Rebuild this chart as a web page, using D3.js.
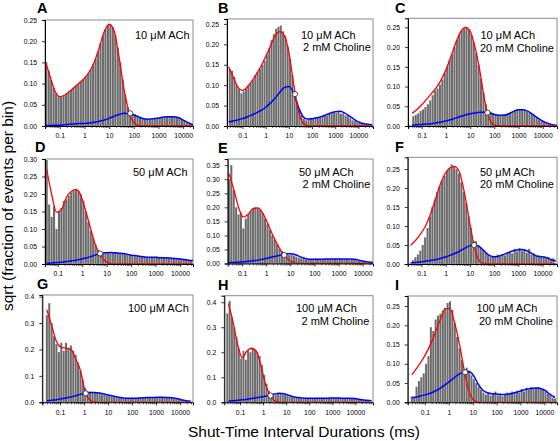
<!DOCTYPE html>
<html><head><meta charset="utf-8">
<script src="https://cdn.jsdelivr.net/npm/d3@7"></script>
<style>
body{margin:0;background:#fff}
svg{display:block}
text{font-family:"Liberation Sans",Arial,sans-serif;fill:#000}
</style>
</head><body>
<svg id="chart" width="560" height="441"></svg>
<script>
// ---------------- DATA ----------------
const panelLetters = ["A","B","C","D","E","F","G","H","I"];
const achLabels = ["10 \u03bcM ACh","10 \u03bcM ACh","10 \u03bcM ACh","50 \u03bcM ACh","50 \u03bcM ACh","50 \u03bcM ACh","100 \u03bcM ACh","100 \u03bcM ACh","100 \u03bcM ACh"];
const cholineLabels = ["","2 mM Choline","20 mM Choline","","2 mM Choline","20 mM Choline","","2 mM Choline","20 mM Choline"];
const xTickValues = [0.1, 1, 10, 100, 1000, 10000];
const yTicks25 = [0, 0.05, 0.10, 0.15, 0.20, 0.25];
const yTicks30 = [0, 0.05, 0.10, 0.15, 0.20, 0.25, 0.30];
const yTicks35 = [0, 0.05, 0.10, 0.15, 0.20, 0.25, 0.30, 0.35];
const yTicks40 = [0, 0.1, 0.2, 0.3, 0.4];

// histogram bins: log10(ms) of first bin centre, 10 bins per decade
const binStart = [-1.55, -1.55, -1.35, -1.45, -1.55, -1.35, -1.55, -1.55, -1.55];
const barsA = [0.150,0.130,0.108,0.090,0.077,0.070,0.068,0.071,0.076,0.080,0.085,0.090,0.095,0.100,0.105,0.110,0.117,0.124,0.133,0.145,0.158,0.175,0.195,0.213,0.228,0.238,0.240,0.233,0.215,0.185,0.150,0.110,0.075,0.045,0.032,0.030,0.028,0.025,0.022,0.019,0.017,0.016,0.016,0.016,0.017,0.018,0.019,0.020,0.021,0.022,0.022,0.022,0.022,0.021,0.019,0.016,0.012,0.008,0.005,0.003];
const barsB = [0.140,0.135,0.120,0.100,0.090,0.080,0.085,0.092,0.100,0.105,0.112,0.125,0.132,0.140,0.150,0.160,0.175,0.190,0.210,0.225,0.238,0.243,0.246,0.232,0.220,0.195,0.165,0.125,0.080,0.060,0.040,0.026,0.018,0.014,0.016,0.020,0.018,0.021,0.020,0.024,0.022,0.027,0.025,0.030,0.031,0.034,0.032,0.035,0.030,0.031,0.026,0.024,0.019,0.014,0.012,0.009,0.008,0.006,0.004,0.003];
const barsC = [0.025,0.028,0.032,0.038,0.042,0.048,0.055,0.065,0.078,0.090,0.095,0.105,0.118,0.135,0.150,0.168,0.182,0.200,0.218,0.232,0.242,0.248,0.250,0.245,0.232,0.212,0.185,0.155,0.120,0.085,0.055,0.038,0.036,0.033,0.030,0.028,0.027,0.029,0.030,0.032,0.035,0.037,0.040,0.042,0.043,0.041,0.040,0.036,0.033,0.030,0.025,0.020,0.016,0.012,0.009,0.006,0.004,0.003];
const barsD = [0.297,0.170,0.135,0.165,0.100,0.150,0.160,0.180,0.185,0.195,0.205,0.210,0.212,0.210,0.198,0.180,0.150,0.120,0.095,0.075,0.055,0.040,0.030,0.030,0.032,0.033,0.031,0.034,0.032,0.033,0.030,0.029,0.028,0.027,0.026,0.025,0.024,0.022,0.022,0.020,0.021,0.019,0.020,0.018,0.019,0.022,0.019,0.020,0.018,0.019,0.017,0.018,0.016,0.017,0.015,0.014,0.015,0.013,0.012,0.011];
const barsE = [0.300,0.350,0.260,0.200,0.175,0.180,0.125,0.160,0.175,0.185,0.195,0.200,0.198,0.192,0.180,0.160,0.140,0.120,0.100,0.085,0.068,0.052,0.045,0.040,0.035,0.030,0.032,0.028,0.024,0.020,0.018,0.016,0.014,0.015,0.013,0.014,0.018,0.015,0.016,0.015,0.017,0.016,0.015,0.017,0.016,0.015,0.018,0.016,0.015,0.016,0.014,0.015,0.013,0.012,0.010,0.008,0.006,0.004,0.003];
const barsF = [0.010,0.018,0.025,0.035,0.050,0.070,0.095,0.125,0.150,0.170,0.190,0.205,0.220,0.232,0.245,0.252,0.262,0.258,0.250,0.238,0.215,0.190,0.160,0.125,0.095,0.062,0.060,0.050,0.045,0.038,0.030,0.025,0.020,0.022,0.018,0.025,0.020,0.026,0.023,0.030,0.032,0.028,0.040,0.033,0.042,0.035,0.038,0.030,0.040,0.025,0.028,0.020,0.022,0.018,0.020,0.015,0.018,0.010,0.015];
const barsG = [0.330,0.375,0.300,0.250,0.220,0.190,0.225,0.195,0.225,0.205,0.215,0.195,0.180,0.150,0.120,0.085,0.055,0.042,0.040,0.038,0.036,0.035,0.033,0.030,0.028,0.026,0.025,0.022,0.021,0.019,0.018,0.016,0.015,0.016,0.014,0.015,0.017,0.015,0.016,0.018,0.017,0.016,0.019,0.018,0.017,0.019,0.018,0.020,0.019,0.021,0.018,0.017,0.016,0.014,0.012,0.010,0.008,0.006,0.004];
const barsH = [0.355,0.405,0.340,0.300,0.260,0.215,0.175,0.205,0.170,0.205,0.200,0.215,0.210,0.200,0.185,0.150,0.110,0.075,0.045,0.030,0.028,0.030,0.033,0.035,0.032,0.029,0.026,0.023,0.021,0.019,0.018,0.017,0.016,0.015,0.017,0.016,0.014,0.016,0.017,0.015,0.016,0.018,0.015,0.017,0.016,0.018,0.017,0.016,0.018,0.015,0.017,0.016,0.015,0.016,0.014,0.019,0.013,0.012,0.011,0.009,0.008,0.006];
const barsI = [0.015,0.012,0.040,0.055,0.065,0.075,0.100,0.120,0.195,0.185,0.215,0.225,0.230,0.238,0.245,0.258,0.262,0.240,0.205,0.170,0.140,0.110,0.085,0.090,0.082,0.070,0.060,0.050,0.040,0.032,0.025,0.020,0.025,0.018,0.022,0.028,0.018,0.020,0.016,0.022,0.025,0.020,0.028,0.022,0.030,0.025,0.035,0.028,0.038,0.032,0.040,0.035,0.038,0.040,0.036,0.032,0.028,0.022,0.018,0.012,0.010];

// fitted curves: log10(ms) of first sample, one sample every 0.2 decade
const curveStart = [-1.6, -1.6, -1.4, -1.45, -1.55, -1.45, -1.55, -1.5, -1.55];
const redA = [0.155,0.118,0.083,0.069,0.073,0.082,0.092,0.102,0.113,0.128,0.151,0.185,0.222,0.240,0.225,0.163,0.088,0.034,0.008,0.001,0,0,0,0,0,0,0,0,0,0,0];
const blueA = [0.001,0.001,0.002,0.002,0.003,0.004,0.005,0.006,0.006,0.007,0.009,0.011,0.014,0.018,0.023,0.027,0.030,0.029,0.026,0.021,0.017,0.016,0.017,0.019,0.021,0.022,0.022,0.020,0.014,0.008,0.003];
const redB = [0.145,0.120,0.095,0.087,0.095,0.110,0.127,0.147,0.170,0.195,0.220,0.231,0.222,0.180,0.105,0.040,0.008,0.001,0,0,0,0,0,0,0,0,0,0,0,0,0,0];
const blueB = [0.010,0.012,0.015,0.018,0.022,0.027,0.032,0.038,0.046,0.056,0.068,0.082,0.094,0.097,0.082,0.048,0.024,0.017,0.018,0.020,0.023,0.027,0.032,0.035,0.036,0.032,0.025,0.017,0.010,0.006,0.004,0.003];
const redC = [0.032,0.042,0.054,0.068,0.082,0.097,0.117,0.143,0.175,0.210,0.238,0.250,0.240,0.200,0.140,0.065,0.018,0.002,0,0,0,0,0,0,0,0,0,0,0,0,0];
const blueC = [0.002,0.003,0.004,0.005,0.006,0.008,0.010,0.013,0.016,0.020,0.024,0.028,0.031,0.033,0.035,0.035,0.033,0.029,0.027,0.027,0.031,0.037,0.041,0.041,0.037,0.029,0.020,0.012,0.007,0.003,0.001];
const redD = [0.270,0.200,0.148,0.155,0.190,0.207,0.213,0.195,0.150,0.100,0.052,0.025,0.008,0.001,0,0,0,0,0,0,0,0,0,0,0,0,0,0,0,0,0];
const blueD = [0.002,0.003,0.004,0.005,0.007,0.009,0.011,0.014,0.017,0.021,0.026,0.030,0.032,0.033,0.032,0.031,0.029,0.026,0.024,0.022,0.020,0.019,0.019,0.018,0.018,0.017,0.016,0.015,0.013,0.011,0.010];
const redE = [0.320,0.265,0.200,0.165,0.175,0.195,0.198,0.180,0.145,0.105,0.070,0.040,0.020,0.006,0.001,0,0,0,0,0,0,0,0,0,0,0,0,0,0,0,0];
const blueE = [0.003,0.004,0.005,0.006,0.008,0.010,0.012,0.015,0.019,0.023,0.027,0.031,0.035,0.035,0.030,0.022,0.017,0.015,0.015,0.015,0.016,0.016,0.016,0.016,0.016,0.016,0.015,0.012,0.008,0.005,0.003];
const redF = [0.049,0.062,0.078,0.098,0.128,0.165,0.205,0.235,0.252,0.257,0.245,0.195,0.125,0.055,0.012,0.001,0,0,0,0,0,0,0,0,0,0,0,0,0,0,0];
const blueF = [0.003,0.004,0.005,0.007,0.009,0.011,0.014,0.018,0.022,0.027,0.033,0.040,0.047,0.050,0.047,0.037,0.025,0.019,0.020,0.024,0.029,0.034,0.037,0.038,0.035,0.028,0.021,0.019,0.017,0.012,0.008];
const redG = [0.350,0.290,0.230,0.208,0.205,0.200,0.165,0.120,0.040,0.008,0.001,0,0,0,0,0,0,0,0,0,0,0,0,0,0,0,0,0,0,0,0];
const blueG = [0.006,0.008,0.010,0.013,0.016,0.020,0.025,0.030,0.034,0.037,0.037,0.035,0.031,0.027,0.023,0.019,0.016,0.015,0.015,0.016,0.017,0.018,0.018,0.019,0.019,0.018,0.017,0.014,0.010,0.006,0.004];
const redH = [0.395,0.320,0.230,0.178,0.205,0.216,0.205,0.150,0.072,0.030,0.006,0.001,0,0,0,0,0,0,0,0,0,0,0,0,0,0,0,0,0,0,0,0];
const blueH = [0.005,0.006,0.008,0.010,0.012,0.015,0.018,0.021,0.024,0.028,0.033,0.036,0.034,0.028,0.022,0.019,0.017,0.016,0.016,0.016,0.016,0.016,0.017,0.017,0.017,0.016,0.016,0.015,0.013,0.010,0.008,0.006];
const redI = [0.071,0.088,0.106,0.127,0.153,0.183,0.215,0.243,0.243,0.205,0.150,0.082,0.028,0.005,0,0,0,0,0,0,0,0,0,0,0,0,0,0,0,0,0];
const blueI = [0.012,0.014,0.017,0.020,0.024,0.030,0.037,0.045,0.055,0.065,0.074,0.079,0.080,0.068,0.045,0.030,0.024,0.022,0.021,0.020,0.021,0.023,0.026,0.030,0.034,0.036,0.037,0.036,0.030,0.020,0.013];

// crossing points (ms, value)
const markerT = [72, 18.4, 52, 5.4, 5.6, 15, 1.17, 2.1, 4.8];
const markerV = [0.030, 0.078, 0.034, 0.030, 0.030, 0.050, 0.034, 0.027, 0.078];

const barsList = [barsA,barsB,barsC,barsD,barsE,barsF,barsG,barsH,barsI];
const redList = [redA,redB,redC,redD,redE,redF,redG,redH,redI];
const blueList = [blueA,blueB,blueC,blueD,blueE,blueF,blueG,blueH,blueI];
const yTickList = [yTicks25,yTicks25,yTicks25,yTicks30,yTicks35,yTicks25,yTicks40,yTicks40,yTicks25];
const yTop = [0.25, 0.262, 0.273, 0.30, 0.372, 0.281, 0.406, 0.426, 0.276];

// ---------------- LAYOUT ----------------
const boxes = [
  {l:45,   r:193, t:20,    b:126,   lo:-1.6,  hi:4.4,  fmt:".2f"},
  {l:227,  r:373, t:19,    b:126,   lo:-1.67, hi:4.63, fmt:".2f"},
  {l:408,  r:557, t:18.3,  b:126,   lo:-1.57, hi:4.59, fmt:".2f"},
  {l:45,   r:193, t:159,   b:264,   lo:-1.52, hi:4.53, fmt:".2f"},
  {l:227.7,r:373, t:159,   b:263.5, lo:-1.6,  hi:4.43, fmt:".2f"},
  {l:407.7,r:557, t:157.3, b:264,   lo:-1.57, hi:4.6,  fmt:".2f"},
  {l:42.3, r:193, t:295,   b:402.3, lo:-1.74, hi:4.54, fmt:".1f"},
  {l:224.3,r:373, t:295.7, b:402.3, lo:-1.68, hi:4.76, fmt:".1f"},
  {l:407.7,r:557, t:296,   b:402.3, lo:-1.72, hi:4.53, fmt:".2f"}
];
const letterPos = [[37,12.5],[218,12.5],[395,13],[35,151.5],[218,153],[395,152],[37,289],[218,290],[395,290]];
const labelPos = [[135,38.5,0,0],[301,38.5,303,50.5],[480.5,38.5,480,52],[133,175.5,0,0],[299,175.5,302.5,188],[480,175.5,480,188],[128,311.5,0,0],[296,311.5,301.5,324.5],[476.5,311.5,479,324.5]];

const svg = d3.select("#chart");
const defs = svg.append("defs");

panelLetters.forEach((letter, p) => {
  const B = boxes[p];
  const x = d3.scaleLog().domain([Math.pow(10,B.lo), Math.pow(10,B.hi)]).range([B.l, B.r]);
  const y = d3.scaleLinear().domain([0, yTop[p]]).range([B.b, B.t]);
  const g = svg.append("g");

  defs.append("clipPath").attr("id","clip"+p).append("rect")
    .attr("x",B.l).attr("y",B.t-1).attr("width",B.r-B.l).attr("height",B.b-B.t+1);

  // bars
  const bins = barsList[p].map((v,i)=>({u: binStart[p] + 0.1*i, v}));
  g.append("g").attr("clip-path","url(#clip"+p+")").selectAll("rect").data(bins).join("rect")
    .attr("x", d => x(Math.pow(10,d.u-0.05)) + 0.18)
    .attr("width", d => Math.max(0.2, x(Math.pow(10,d.u+0.05)) - x(Math.pow(10,d.u-0.05)) - 0.36))
    .attr("y", d => y(d.v))
    .attr("height", d => y(0) - y(d.v))
    .attr("fill", "#6c6c6c");

  // frame
  g.append("rect").attr("x",B.l).attr("y",B.t).attr("width",B.r-B.l).attr("height",B.b-B.t)
    .attr("fill","none").attr("stroke","#8a8a8a").attr("stroke-width",1);

  // curves
  const line = d3.line().x(d=>x(Math.pow(10,d.u))).y(d=>y(d.v)).curve(d3.curveMonotoneX);
  const toPts = arr => arr.map((v,i)=>({u: curveStart[p] + 0.2*i, v}));
  const cg = g.append("g").attr("clip-path","url(#clip"+p+")");
  cg.append("path").attr("d", line(toPts(blueList[p]))).attr("fill","none").attr("stroke","#0000ff").attr("stroke-width",1.5);
  cg.append("path").attr("d", line(toPts(redList[p]))).attr("fill","none").attr("stroke","#ff0000").attr("stroke-width",1.3);

  // marker
  g.append("circle").attr("cx", x(markerT[p])).attr("cy", y(markerV[p])).attr("r", 2.6)
    .attr("fill","#fff").attr("stroke","#222").attr("stroke-width",0.8);

  // axes
  const ya = g.append("g").attr("transform","translate("+B.l+",0)")
    .call(d3.axisLeft(y).tickValues(yTickList[p]).tickFormat(d3.format(B.fmt)).tickSize(3).tickPadding(5));
  const xa = g.append("g").attr("transform","translate(0,"+B.b+")")
    .call(d3.axisBottom(x).tickValues(xTickValues).tickFormat(d3.format("~g")).tickSize(3).tickPadding(4.5));
  [ya, xa].forEach(a => {
    a.select(".domain").attr("stroke","#000").attr("stroke-width",1);
    a.selectAll(".tick line").attr("stroke","#000").attr("stroke-width",0.8);
    a.selectAll(".tick text").style("font-size","6.8px").style("font-family",'"Liberation Sans",Arial,sans-serif');
  });
  // minor x ticks
  const minors = [];
  for (let e = Math.floor(B.lo); e <= Math.ceil(B.hi); e++) {
    for (let m = 2; m <= 9; m++) {
      const val = m * Math.pow(10, e);
      if (Math.log10(val) > B.lo && Math.log10(val) < B.hi) minors.push(val);
    }
  }
  g.append("g").selectAll("line").data(minors).join("line")
    .attr("x1", d=>x(d)).attr("x2", d=>x(d)).attr("y1", B.b).attr("y2", B.b+2)
    .attr("stroke","#000").attr("stroke-width",0.6);

  // texts
  svg.append("text").attr("x",letterPos[p][0]).attr("y",letterPos[p][1])
    .style("font-size","14.5px").style("font-weight","bold").text(letter);
  const L = labelPos[p];
  svg.append("text").attr("x",L[0]).attr("y",L[1]).style("font-size","11px").text(achLabels[p]);
  if (cholineLabels[p]) svg.append("text").attr("x",L[2]).attr("y",L[3]).style("font-size","11px").text(cholineLabels[p]);
});

svg.append("text").attr("transform","translate(12.5,206) rotate(-90)").attr("text-anchor","middle")
  .style("font-size","15.5px").text("sqrt (fraction of events per bin)");
svg.append("text").attr("x",304).attr("y",437).attr("text-anchor","middle")
  .style("font-size","15.5px").text("Shut-Time Interval Durations (ms)");
</script>
</body></html>
